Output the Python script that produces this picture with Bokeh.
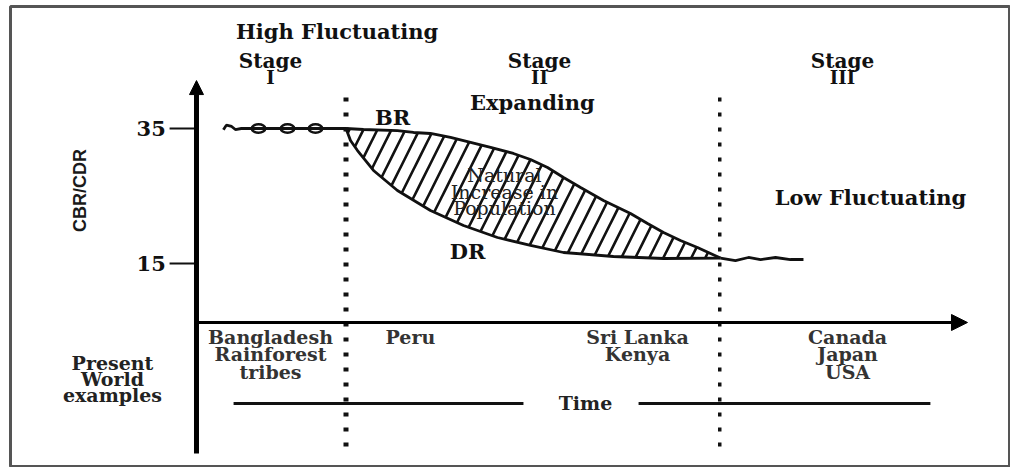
from bokeh.plotting import figure
from bokeh.models import Arrow, NormalHead, Range1d
from bokeh.core.properties import value
from bokeh.embed import file_html
from bokeh.resources import INLINE
import math

# ---------------- data ----------------
# time axis in arbitrary units; stage boundaries
stage_boundaries = [1.0, 3.5]
stage_titles = ["Stage", "Stage", "Stage"]
stage_numerals = ["I", "II", "III"]

# rate axis (CBR/CDR per 1000)
tick_values = [15, 35]
tick_labels = ["15", "35"]

# Stage I - high fluctuating birth/death rates
high_fluct_t = [0.18, 0.20, 0.235, 0.26, 0.30, 1.0]
high_fluct_r = [34.8, 35.5, 35.3, 34.85, 35.0, 35.0]
high_loops_t = [0.415, 0.609, 0.796]
high_loops_r = [35.0, 35.0, 35.0]

# Stage II - birth rate (BR) and death rate (DR)
br_t = [1.0, 1.117, 1.344, 1.452, 1.565, 1.699, 1.833, 1.967, 2.12, 2.234,
        2.348, 2.455, 2.569, 2.722, 2.903, 3.017, 3.124, 3.237, 3.351, 3.505]
br_r = [35.0, 34.85, 34.70, 34.41, 34.26, 33.67, 32.93, 32.19, 31.30, 30.41,
        29.22, 27.74, 26.26, 24.33, 22.41, 20.93, 19.59, 18.41, 17.37, 15.8]
dr_t = [1.0, 1.030, 1.077, 1.184, 1.344, 1.565, 1.786, 2.013, 2.234, 2.455,
        2.789, 3.124, 3.505]
dr_r = [35.0, 33.22, 31.74, 28.78, 25.81, 22.85, 20.63, 18.85, 17.67, 16.63,
        16.04, 15.74, 15.8]

# Stage III - low fluctuating
low_fluct_t = [3.505, 3.605, 3.692, 3.773, 3.873, 3.973, 4.060]
low_fluct_r = [15.8, 15.44, 15.89, 15.59, 15.89, 15.59, 15.59]

# present world examples per stage column
examples = [["Bangladesh", "Rainforest", "tribes"], ["Peru"],
            ["Sri Lanka", "Kenya"], ["Canada", "Japan", "USA"]]

# ---------------- figure ----------------
p = figure(width=1010, height=467, x_range=Range1d(-1.2441, 5.4448),
           y_range=Range1d(-15.222, 53.074), x_axis_type=None, y_axis_type=None,
           toolbar_location=None, output_backend="svg",
           min_border_left=10, min_border_top=6, min_border_right=0, min_border_bottom=0)
p.grid.visible = False
p.outline_line_color = "#555555"
p.outline_line_width = 3
p.background_fill_color = "white"

SERIF = value("DejaVu Serif")
INK = "#111111"

# hatched natural-increase area
poly_t = br_t + dr_t[::-1][1:]
poly_r = br_r + dr_r[::-1][1:]
p.patch(poly_t, poly_r, fill_alpha=0, line_color=None, hatch_pattern="/",
        hatch_color=INK, hatch_weight=2.6, hatch_scale=28)

# BR and DR curves
p.line(br_t, br_r, line_color=INK, line_width=2.8)
p.line(dr_t, dr_r, line_color=INK, line_width=2.8)
p.line(high_fluct_t, high_fluct_r, line_color=INK, line_width=2.8)
p.ellipse(high_loops_t, high_loops_r, width=0.09, height=1.25, fill_color=None,
          line_color=INK, line_width=2.6)
p.line(low_fluct_t, low_fluct_r, line_color=INK, line_width=2.8)

# stage boundaries (dotted)
p.segment(x0=[stage_boundaries[0]], y0=[39.6], x1=[stage_boundaries[0]], y1=[-12.7],
          line_color=INK, line_width=5, line_dash="4 11")
p.segment(x0=[stage_boundaries[1]], y0=[39.6], x1=[stage_boundaries[1]], y1=[-12.4],
          line_color=INK, line_width=3.5, line_dash="4 11")

# axes drawn as arrows
p.add_layout(Arrow(end=NormalHead(size=14, fill_color="black", line_color="black"),
                   x_start=0, y_start=-13.15, x_end=0, y_end=42.1,
                   line_width=5, line_color="black"))
p.add_layout(Arrow(end=NormalHead(size=16, fill_color="black", line_color="black"),
                   x_start=0, y_start=6.26, x_end=5.157, y_end=6.26,
                   line_width=3, line_color="black"))

# y ticks and tick labels
p.segment(x0=[-0.18] * len(tick_values), y0=tick_values, x1=[0] * len(tick_values),
          y1=tick_values, line_color=INK, line_width=2)
p.text(x=[-0.205] * len(tick_values), y=tick_values, text=tick_labels,
       text_font=SERIF, text_font_style="bold", text_font_size="21px",
       text_align="right", text_baseline="middle", text_color=INK)

# time line
p.segment(x0=[0.248, 2.957], y0=[-5.74, -5.74], x1=[2.187, 4.909], y1=[-5.74, -5.74],
          line_color=INK, line_width=3)

def txt(x, y, s, size="21px", bold=True, color=INK, align="center", angle=0):
    p.text(x=[x], y=[y], text=[s], text_font=SERIF,
           text_font_style="bold" if bold else "normal", text_font_size=size,
           text_align=align, text_baseline="middle", text_color=color, angle=angle)

# headers
txt(0.940, 49.37, "High Fluctuating")
stage_x = [0.495, 2.294, 4.321]
for sx, st, sn in zip(stage_x, stage_titles, stage_numerals):
    txt(sx, 45.07, st, size="20px")
    txt(sx, 42.56, sn, size="18px")
txt(2.247, 38.85, "Expanding")
txt(1.311, 36.63, "BR")
txt(1.813, 16.78, "DR")
txt(4.508, 24.78, "Low Fluctuating")
for i, s in enumerate(["Natural", "Increase in", "Population"]):
    txt(2.06, 28.04 - i * 2.44, s, size="19px", bold=False, color="#222222")

# axis title
p.text(x=[-0.776], y=[25.81], text=["CBR/CDR"],
       text_font=value("Liberation Sans Narrow, Liberation Sans"),
       text_font_style="bold", text_font_size="18px", text_align="center",
       text_baseline="middle", text_color="#1a1a1a", angle=math.pi / 2)

# present world examples
for i, s in enumerate(["Present", "World", "examples"]):
    txt(-0.562, 0.33 - i * 2.44, s, size="19px", bold=True, color="#222222")
ex_x = [0.495, 1.431, 2.950, 4.355]
for ex, lines in zip(ex_x, examples):
    for i, s in enumerate(lines):
        txt(ex, 4.04 - i * 2.52, s, size="19px", bold=True, color="#333333")

txt(2.602, -5.74, "Time", size="19px", bold=True, color="#222222")

open("out.html", "w").write(file_html(p, INLINE))
